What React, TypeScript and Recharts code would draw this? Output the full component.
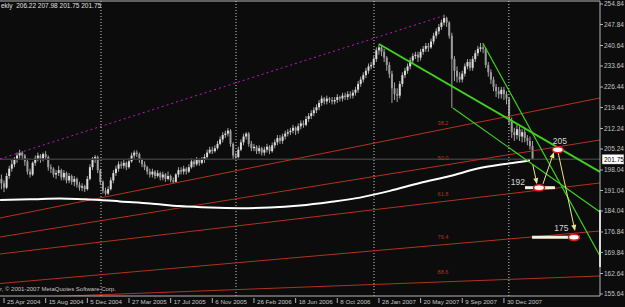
import React from "react";
import { Bar, ComposedChart, Line, ReferenceDot, ReferenceLine, XAxis, YAxis } from "recharts";

// weekly bars, index 1..205 (25 Apr 2004 = index 2)
const firstOpen = 195.0;
const closes = [
  193.5, 192.0, 196.0, 198.5, 200.0, 201.5, 203.0, 204.0, 203.0, 201.0,
  197.5, 196.5, 200.5, 202.0, 203.0, 202.0, 203.5, 202.5, 199.0, 198.5,
  196.5, 197.0, 198.0, 195.5, 197.0, 194.5, 196.0, 194.0, 195.0, 193.0,
  192.0, 192.5, 191.5, 195.0, 199.0, 202.0, 202.5, 198.0, 194.0, 191.0,
  190.0, 191.5, 194.5, 197.0, 198.5, 200.0, 199.5, 200.5, 199.0, 201.0,
  203.0, 204.0, 203.5, 201.5, 200.0, 199.0, 197.5, 196.5, 197.5, 196.0,
  197.0, 195.5, 196.5, 195.0, 196.0, 194.5, 194.0, 196.5, 198.0, 197.5,
  198.5, 197.5, 199.0, 201.0, 200.0, 201.5, 200.5, 201.5, 202.5, 204.0,
  205.0, 204.5, 205.5, 207.0, 208.5, 210.0, 210.5, 211.5, 207.0, 203.0,
  202.5, 205.0, 207.5, 209.5, 210.5, 207.0, 205.5, 206.0, 204.5, 205.5,
  204.0, 205.0, 206.0, 204.5, 206.5, 207.5, 209.0, 208.0, 209.5, 210.5,
  211.0, 211.5, 212.5, 211.5, 213.0, 214.0, 213.5, 215.5, 216.5, 217.5,
  218.5, 219.5, 221.0, 222.5, 221.5, 222.5, 222.0, 221.5, 222.0, 223.0,
  222.5, 223.5, 223.0, 224.0, 223.5, 224.5, 225.5, 227.5, 229.0, 230.5,
  232.0, 233.5, 234.0, 236.0, 239.0, 240.0, 238.5, 236.5, 234.0, 231.0,
  226.0, 224.0, 223.5, 227.5, 230.5, 232.0, 233.5, 235.5, 237.0, 237.5,
  236.5, 238.5, 239.5, 240.5, 240.0, 242.0, 244.0, 245.5, 247.0, 248.5,
  250.0, 248.5, 244.0, 236.0, 232.0, 230.0, 229.0, 231.0, 233.5, 235.0,
  233.0, 236.0, 238.0, 239.5, 240.0, 239.5, 234.0, 231.5, 229.0, 226.5,
  225.0, 224.0, 225.5, 224.0, 222.5, 215.0, 211.0, 210.0, 212.0, 209.5,
  211.0, 209.0, 208.0, 206.22, 201.75,
];
const highs = [
  196.5, 194.5, 197.0, 199.5, 201.5, 202.5, 204.0, 205.0, 204.5, 203.5,
  202.0, 198.5, 201.0, 203.0, 204.0, 203.5, 204.0, 204.5, 203.0, 200.0,
  199.0, 198.0, 199.5, 198.5, 198.0, 197.5, 197.0, 196.5, 196.0, 195.5,
  194.0, 193.5, 193.0, 196.0, 200.0, 202.5, 203.2, 203.0, 198.5, 194.5,
  192.0, 192.5, 195.5, 198.0, 199.5, 201.0, 201.0, 201.5, 201.0, 202.0,
  204.0, 204.8, 204.8, 204.0, 202.0, 201.0, 199.5, 198.5, 198.5, 198.0,
  198.0, 197.5, 197.5, 197.0, 197.5, 196.5, 195.5, 197.0, 199.0, 199.0,
  199.5, 199.0, 200.0, 202.0, 201.5, 202.5, 202.0, 202.5, 203.5, 205.0,
  206.0, 206.0, 206.5, 208.0, 209.5, 211.0, 211.5, 212.4, 212.0, 207.5,
  204.0, 206.0, 208.5, 210.5, 211.0, 211.0, 208.0, 207.0, 206.5, 206.5,
  206.0, 206.0, 207.0, 206.5, 207.5, 208.5, 210.0, 210.0, 210.5, 211.5,
  212.0, 212.5, 213.5, 213.0, 214.0, 215.0, 215.0, 216.5, 217.5, 218.5,
  219.5, 220.5, 222.0, 223.5, 223.0, 223.5, 223.0, 223.0, 223.0, 224.0,
  223.5, 224.5, 224.5, 225.0, 225.0, 225.5, 226.5, 228.5, 230.0, 231.5,
  233.0, 234.5, 235.0, 237.0, 240.0, 241.0, 240.5, 239.5, 237.0, 235.0,
  232.0, 228.0, 226.0, 228.5, 231.5, 233.0, 234.5, 236.5, 238.0, 238.5,
  238.5, 239.5, 240.5, 241.5, 241.5, 243.0, 245.0, 246.5, 248.0, 249.5,
  251.2, 250.5, 249.0, 245.0, 237.0, 233.5, 231.5, 232.0, 234.5, 236.0,
  236.0, 237.0, 239.0, 240.5, 241.5, 241.0, 240.0, 235.0, 232.5, 230.0,
  227.5, 226.5, 226.5, 226.5, 225.0, 223.0, 216.0, 212.5, 213.5, 213.0,
  212.0, 212.0, 210.0, 209.5, 207.98,
];
const lows = [
  191.5, 190.5, 191.5, 195.0, 197.5, 199.0, 200.5, 202.0, 201.5, 199.5,
  196.5, 195.5, 196.0, 199.5, 201.0, 200.5, 201.0, 201.5, 197.8, 197.0,
  195.5, 195.0, 196.0, 194.5, 194.5, 193.5, 193.5, 193.0, 192.5, 192.0,
  191.0, 190.8, 190.5, 191.0, 194.5, 198.0, 200.5, 197.0, 193.0, 190.0,
  189.3, 189.5, 191.0, 193.5, 196.0, 197.5, 198.5, 198.5, 198.0, 198.5,
  200.5, 202.0, 202.5, 200.5, 199.0, 198.0, 196.5, 195.5, 195.5, 195.0,
  195.5, 194.5, 194.5, 194.0, 194.5, 193.8, 193.6, 193.8, 195.5, 196.5,
  196.5, 196.5, 197.0, 198.5, 199.0, 199.5, 199.5, 200.0, 200.5, 202.0,
  203.5, 203.5, 204.0, 205.0, 206.5, 207.5, 209.0, 209.5, 206.0, 201.5,
  201.5, 202.0, 204.5, 206.5, 208.5, 206.0, 204.5, 204.5, 203.5, 203.5,
  203.0, 203.0, 204.0, 203.5, 204.0, 205.5, 206.5, 207.0, 207.0, 208.5,
  209.5, 210.0, 210.5, 210.0, 210.5, 212.0, 212.5, 213.0, 214.5, 215.5,
  216.5, 217.5, 218.5, 220.0, 220.5, 220.5, 221.0, 220.5, 220.5, 221.0,
  221.5, 221.5, 222.0, 222.0, 222.5, 222.5, 223.5, 224.5, 226.5, 228.0,
  229.5, 231.0, 232.5, 233.0, 235.0, 237.5, 237.0, 235.0, 232.0, 229.5,
  221.0, 222.0, 221.3, 222.5, 226.5, 229.5, 231.0, 232.5, 234.5, 236.0,
  235.0, 235.5, 237.5, 238.5, 238.5, 239.5, 241.0, 243.0, 244.5, 246.0,
  247.5, 247.0, 243.0, 219.3, 228.5, 228.0, 228.0, 228.0, 230.0, 232.5,
  232.0, 232.0, 235.0, 237.0, 238.5, 238.0, 233.0, 230.0, 227.5, 225.0,
  223.0, 222.5, 222.5, 222.0, 220.5, 213.5, 209.0, 208.0, 208.5, 208.0,
  207.5, 207.5, 206.5, 205.0, 201.75,
];

// moving average
const maK = [0.5, 12, 23.5, 33.1, 38.9, 46.5, 58.1, 69.6, 81.1, 92.6, 104.1, 115.7, 127.2, 138.7, 150.2, 161.7, 173.3, 184.8, 194.4, 204];
const maV = [187.8, 188.0, 188.3, 188.0, 187.8, 187.3, 186.6, 185.7, 185.2, 185.0, 185.2, 185.9, 187.1, 188.6, 190.9, 193.6, 196.0, 198.7, 200.1, 201.3];

const dateTicks = [2, 18, 34, 50, 66, 82, 98, 114, 130, 146, 162, 178, 194];
const dateLabels = [
  "25 Apr 2004", "15 Aug 2004", "5 Dec 2004", "27 Mar 2005", "17 Jul 2005", "6 Nov 2005",
  "26 Feb 2006", "18 Jun 2006", "8 Oct 2006", "28 Jan 2007", "20 May 2007", "9 Sep 2007", "30 Dec 2007",
];
const priceTicks = [254.84, 247.84, 240.64, 233.64, 226.44, 219.44, 212.24, 205.24, 198.04, 191.04, 184.04, 176.84, 169.84, 162.64, 155.64];
const lastPrice = 201.75;
const yearBreaks = [39.25, 91.1, 144.1, 195.9];

// fibonacci fan lines: price at left edge / right edge
const fibNames = ["38.2", "50.0", "61.8", "76.4", "88.6"];
const fibLeft = [181.63, 175.13, 169.31, 159.22, 154.09];
const fibRight = [222.69, 208.32, 193.61, 177.18, 161.79];
const fibLabelK = 170.6;
const fibLabelP = [214.13, 202.16, 189.84, 175.13, 163.16];

// green trend lines [k, price]
const greenFrom = [[146.0, 241.16], [174.4, 219.26], [185.9, 241.5]];
const greenTo = [[230.9, 197.37], [230.9, 183.68], [230.9, 168.63]];
const magentaFrom = [0.46, 201.82];
const magentaTo = [170.6, 250.74];

// projection annotations
const arrowFrom = [[205.1, 199.8], [209.0, 193.3], [214.7, 204.5]];
const arrowTo = [[206.7, 193.2], [213.2, 204.2], [221.3, 177.2]];
const targetK = [207.5, 214.7, 220.9];
const targetP = [192, 205, 175];
const targetBarFrom = [202.1, 204.8];
const targetBarTo = [213.6, 223.2];
const targetBarP = [192, 175];
const noteText = ["192", "205", "175"];
const noteK = [202.1, 215.5, 216.1];

const xDomain = [0.46, 230.9];
const yDomain = [154.94, 255.87];

const BG = "#0c0c0c";
const AXIS = "#b4b4b4";
const TXT = "#c4c4c4";
const FONT = '"Liberation Sans", Arial, sans-serif';
const FIB = "#b3321f";
const GREEN = "#3fcf1f";

const candles = closes.map((close, i) => ({
  k: i + 1,
  open: i === 0 ? firstOpen : closes[i - 1],
  high: highs[i],
  low: lows[i],
  close,
}));
const maData = maK.map((k, i) => ({ k, ma: maV[i] }));

function Candle(props: any) {
  const { x, y, width, height, payload } = props;
  if (!payload) return null;
  const top = Math.min(y, y + height);
  const h = Math.abs(height);
  const { open, close, high, low } = payload;
  const span = high - low || 1;
  const yOf = (v: number) => top + ((high - v) / span) * h;
  const cx = x + width / 2;
  const b1 = yOf(Math.max(open, close));
  const b2 = yOf(Math.min(open, close));
  const up = close >= open;
  return (
    <g>
      <line x1={cx} x2={cx} y1={top} y2={top + h} stroke="#a4a4a4" strokeWidth={1} />
      <rect x={cx - 1} y={b1} width={2} height={Math.max(1, b2 - b1)} fill={up ? "#dcdcdc" : "#9c9c9c"} />
    </g>
  );
}

function DateTick(props: any) {
  const { x, payload } = props;
  const i = dateTicks.indexOf(payload.value);
  return (
    <g>
      <line x1={x} x2={x} y1={298} y2={303} stroke={AXIS} />
      <text x={x + 3} y={303.5} fontSize={6.2} fill={TXT} fontFamily={FONT}>
        {dateLabels[i]}
      </text>
    </g>
  );
}

function Arrow(props: any) {
  const { x1, y1, x2, y2 } = props;
  const a = Math.atan2(y2 - y1, x2 - x1);
  const L = 6;
  const W = 2.5;
  const bx = x2 - L * Math.cos(a);
  const by = y2 - L * Math.sin(a);
  const pts = `${x2},${y2} ${bx + W * Math.sin(a)},${by - W * Math.cos(a)} ${bx - W * Math.sin(a)},${by + W * Math.cos(a)}`;
  return (
    <g>
      <line x1={x1} y1={y1} x2={bx} y2={by} stroke="#e6e68a" strokeWidth={1} />
      <polygon points={pts} fill="#e6e68a" />
    </g>
  );
}

function PriceTag(props: any) {
  const { viewBox } = props;
  const x = viewBox.x + viewBox.width + 2;
  const y = viewBox.y;
  return (
    <g>
      <rect x={x} y={y - 5} width={22} height={10} fill="#ffffff" stroke="#202020" strokeWidth={0.5} />
      <text x={x + 2} y={y + 2.4} fontSize={6.5} fill="#000000" fontFamily={FONT}>
        {lastPrice.toFixed(2)}
      </text>
    </g>
  );
}

const noteAnchor = ["end", "middle", "middle"];
const noteDy = [-2.5, -6, -6.5];

export default function App() {
  return (
    <div style={{ position: "absolute", left: 0, top: 0, width: 625, height: 307, background: BG, overflow: "hidden", fontFamily: FONT }}>
      <ComposedChart width={625} height={307} data={candles} margin={{ top: 1, right: 0, bottom: 0, left: 0 }}>
        <XAxis
          dataKey="k"
          type="number"
          domain={xDomain}
          allowDataOverflow
          ticks={dateTicks}
          interval={0}
          height={11}
          axisLine={{ stroke: AXIS }}
          tickLine={false}
          tick={<DateTick />}
        />
        <YAxis
          orientation="right"
          type="number"
          domain={yDomain}
          allowDataOverflow
          ticks={priceTicks}
          interval={0}
          width={25}
          axisLine={{ stroke: AXIS }}
          tickLine={{ stroke: AXIS }}
          tickSize={3}
          tickMargin={1}
          tickFormatter={(v: number) => v.toFixed(2)}
          tick={{ fill: TXT, fontSize: 6.5, fontFamily: FONT, textAnchor: "start" }}
        />
        <ReferenceLine y={yDomain[1]} stroke={AXIS} ifOverflow="visible" />
        <ReferenceLine y={lastPrice} stroke="#3a3a3a" strokeWidth={1.5} label={<PriceTag />} />
        {yearBreaks.map((k) => (
          <ReferenceLine key={"yb" + k} x={k} stroke="#cfcfcf" strokeDasharray="1 2" />
        ))}
        {fibNames.map((n, i) => (
          <ReferenceLine
            key={"fib" + n}
            segment={[{ x: xDomain[0], y: fibLeft[i] }, { x: xDomain[1], y: fibRight[i] }]}
            stroke={FIB}
            strokeWidth={1}
            ifOverflow="hidden"
          />
        ))}
        <ReferenceLine
          segment={[{ x: magentaFrom[0], y: magentaFrom[1] }, { x: magentaTo[0], y: magentaTo[1] }]}
          stroke="#c018c0"
          strokeDasharray="2 3"
          ifOverflow="hidden"
        />
        <Line data={maData} dataKey="ma" type="monotone" stroke="#ffffff" strokeWidth={2} dot={false} isAnimationActive={false} />
        <Bar dataKey={(d: any) => [d.low, d.high]} barSize={2} shape={<Candle />} isAnimationActive={false} />
        {greenFrom.map((f, i) => (
          <ReferenceLine
            key={"gr" + i}
            segment={[{ x: f[0], y: f[1] }, { x: greenTo[i][0], y: greenTo[i][1] }]}
            stroke={GREEN}
            strokeWidth={i === 0 ? 2 : 1.2}
            ifOverflow="hidden"
          />
        ))}
        {fibNames.map((n, i) => (
          <ReferenceDot
            key={"fl" + n}
            x={fibLabelK}
            y={fibLabelP[i]}
            ifOverflow="visible"
            shape={(p: any) => (
              <text x={p.cx} y={p.cy} dy={2} textAnchor="middle" fontSize={5.6} fill={FIB} fontFamily={FONT}>
                {n}
              </text>
            )}
          />
        ))}
        <ReferenceLine
          segment={[{ x: xDomain[1], y: 184.4 }, { x: xDomain[1], y: 164.9 }]}
          stroke="#ffffff"
          strokeWidth={2}
          ifOverflow="visible"
        />
        {targetBarP.map((p, i) => (
          <ReferenceLine
            key={"tb" + i}
            segment={[{ x: targetBarFrom[i], y: p }, { x: targetBarTo[i], y: p }]}
            stroke="#f4f0e0"
            strokeWidth={3}
            ifOverflow="visible"
          />
        ))}
        {arrowFrom.map((f, i) => (
          <ReferenceLine
            key={"ar" + i}
            segment={[{ x: f[0], y: f[1] }, { x: arrowTo[i][0], y: arrowTo[i][1] }]}
            shape={<Arrow />}
            ifOverflow="visible"
          />
        ))}
        {targetK.map((k, i) => (
          <ReferenceDot
            key={"tg" + i}
            x={k}
            y={targetP[i]}
            ifOverflow="visible"
            shape={(p: any) => <ellipse cx={p.cx} cy={p.cy} rx={5.5} ry={3} fill="#ffffff" stroke="#e01818" strokeWidth={1.5} />}
          />
        ))}
        {noteText.map((t, i) => (
          <ReferenceDot
            key={"nt" + t}
            x={noteK[i]}
            y={targetP[i]}
            ifOverflow="visible"
            shape={(p: any) => (
              <text x={p.cx} y={p.cy} dy={noteDy[i]} textAnchor={noteAnchor[i]} fontSize={8.5} fill="#d4d4d4" fontFamily={FONT}>
                {t}
              </text>
            )}
          />
        ))}
      </ComposedChart>
      <div style={{ position: "absolute", left: 1, top: 2, fontSize: 6.5, lineHeight: "8px", color: "#e0e0e0", whiteSpace: "pre" }}>
        {"ekly  206.22 207.98 201.75 201.75"}
      </div>
      <div style={{ position: "absolute", left: 0, top: 285, fontSize: 6, lineHeight: "8px", color: TXT, whiteSpace: "pre" }}>
        {"r, \u00a9 2001-2007 MetaQuotes Software Corp."}
      </div>
    </div>
  );
}
